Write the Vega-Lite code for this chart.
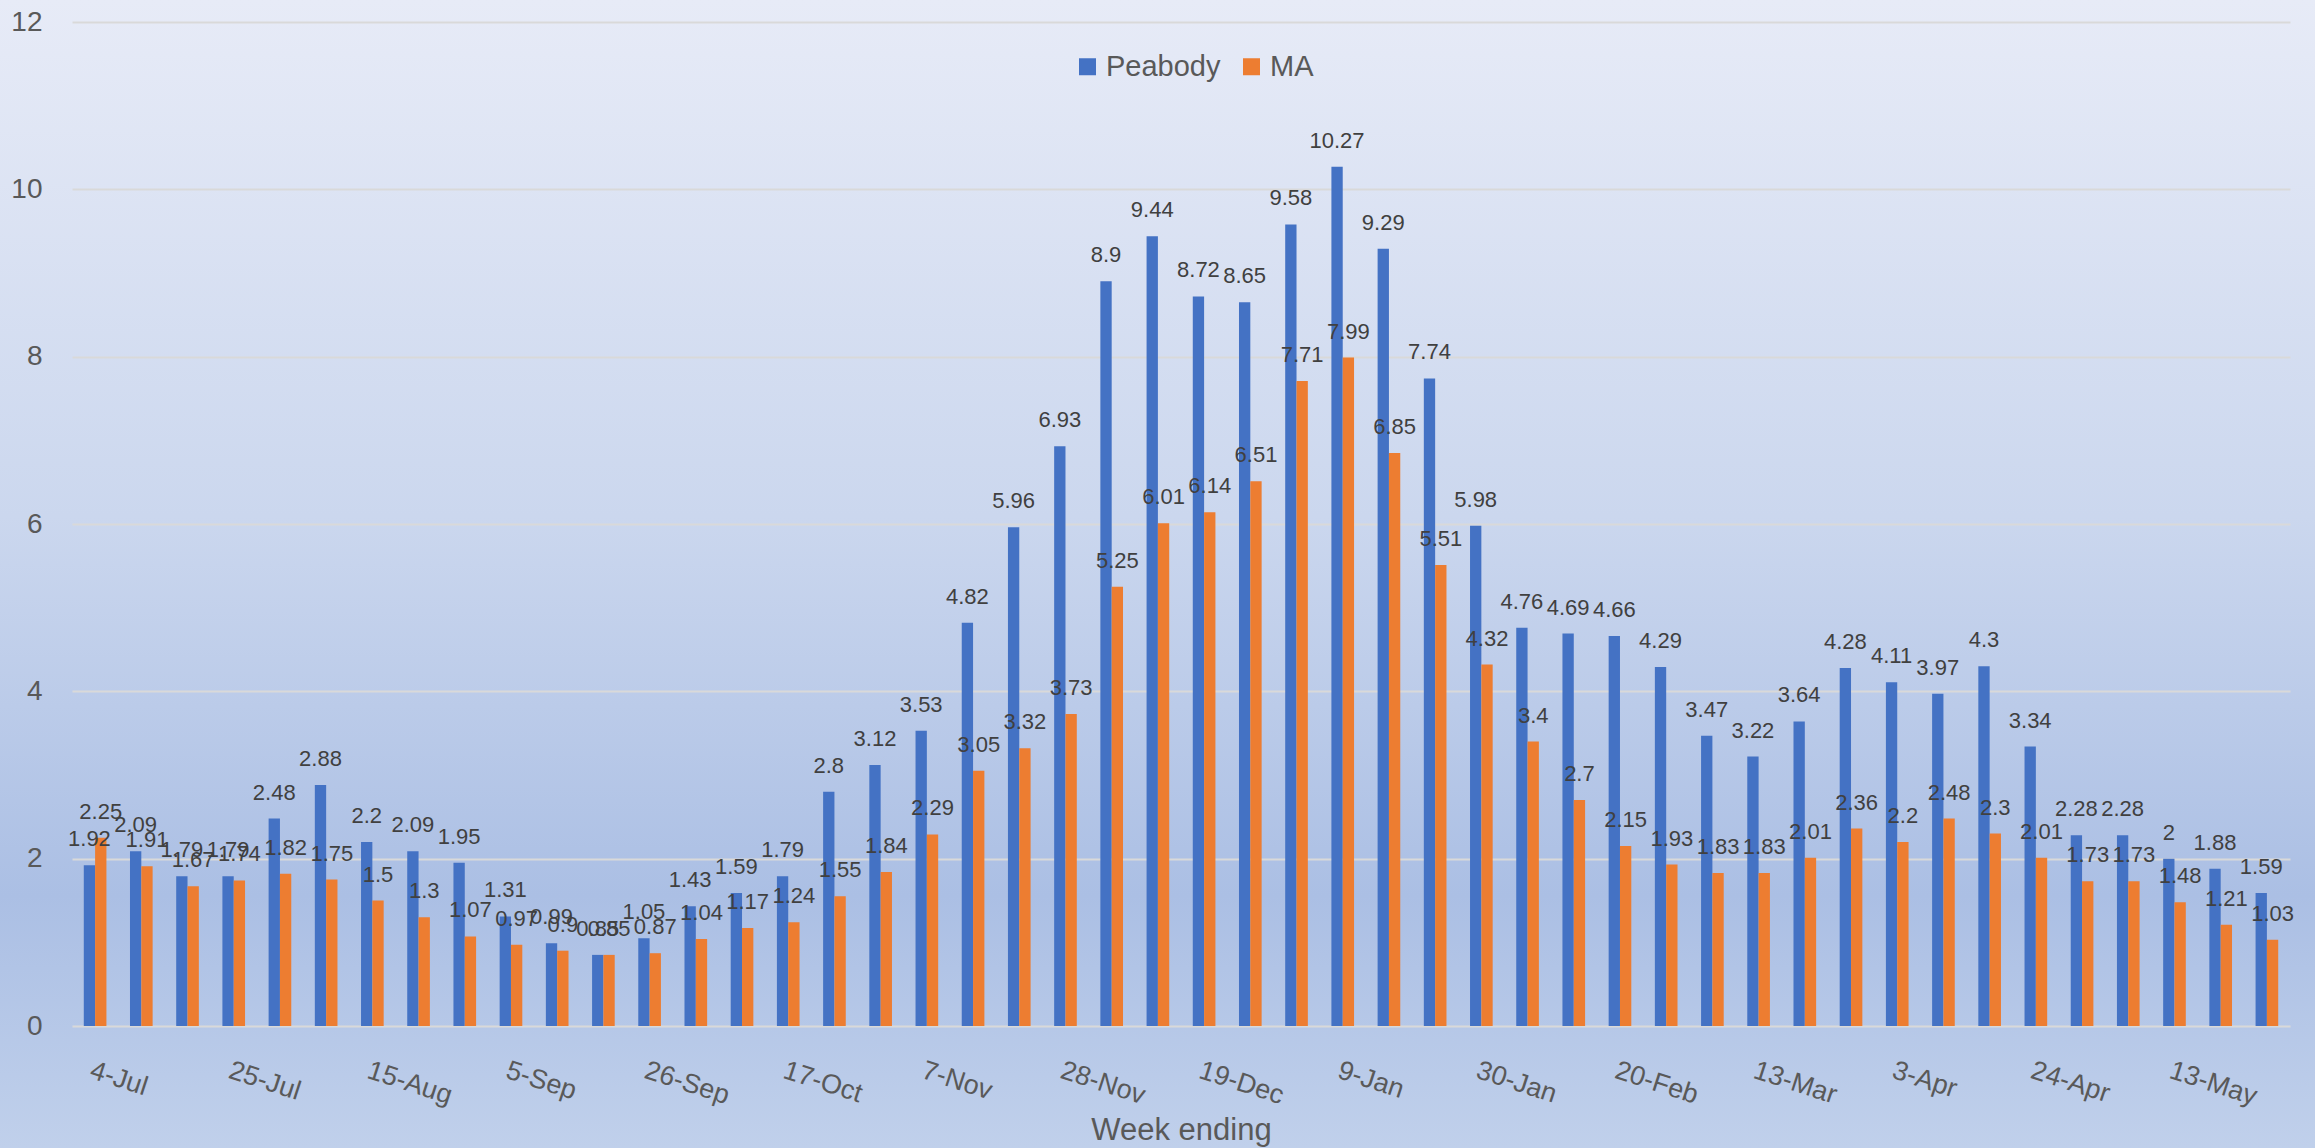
{
  "$schema": "https://vega.github.io/schema/vega-lite/v6.json",
  "width": 2315,
  "height": 1148,
  "autosize": "none",
  "padding": 0,
  "background": "#C9D6EE",
  "view": {
    "stroke": null,
    "fill": {
      "gradient": "linear",
      "x1": 0, "y1": 0, "x2": 0, "y2": 1,
      "stops": [
        {"offset": 0, "color": "#E7EBF7"},
        {"offset": 0.45, "color": "#CBD7EE"},
        {"offset": 0.78, "color": "#ABBFE4"},
        {"offset": 1, "color": "#C0D0EB"}
      ]
    }
  },
  "config": {
    "font": "Liberation Sans"
  },
  "data": {
    "values": [
      {"week": "4-Jul", "Peabody": 1.92, "MA": 2.25},
      {"week": "11-Jul", "Peabody": 2.09, "MA": 1.91},
      {"week": "18-Jul", "Peabody": 1.79, "MA": 1.67},
      {"week": "25-Jul", "Peabody": 1.79, "MA": 1.74},
      {"week": "1-Aug", "Peabody": 2.48, "MA": 1.82},
      {"week": "8-Aug", "Peabody": 2.88, "MA": 1.75},
      {"week": "15-Aug", "Peabody": 2.2, "MA": 1.5},
      {"week": "22-Aug", "Peabody": 2.09, "MA": 1.3},
      {"week": "29-Aug", "Peabody": 1.95, "MA": 1.07},
      {"week": "5-Sep", "Peabody": 1.31, "MA": 0.97},
      {"week": "12-Sep", "Peabody": 0.99, "MA": 0.9},
      {"week": "19-Sep", "Peabody": 0.85, "MA": 0.85},
      {"week": "26-Sep", "Peabody": 1.05, "MA": 0.87},
      {"week": "3-Oct", "Peabody": 1.43, "MA": 1.04},
      {"week": "10-Oct", "Peabody": 1.59, "MA": 1.17},
      {"week": "17-Oct", "Peabody": 1.79, "MA": 1.24},
      {"week": "24-Oct", "Peabody": 2.8, "MA": 1.55},
      {"week": "31-Oct", "Peabody": 3.12, "MA": 1.84},
      {"week": "7-Nov", "Peabody": 3.53, "MA": 2.29},
      {"week": "14-Nov", "Peabody": 4.82, "MA": 3.05},
      {"week": "21-Nov", "Peabody": 5.96, "MA": 3.32},
      {"week": "28-Nov", "Peabody": 6.93, "MA": 3.73},
      {"week": "5-Dec", "Peabody": 8.9, "MA": 5.25},
      {"week": "12-Dec", "Peabody": 9.44, "MA": 6.01},
      {"week": "19-Dec", "Peabody": 8.72, "MA": 6.14},
      {"week": "26-Dec", "Peabody": 8.65, "MA": 6.51},
      {"week": "2-Jan", "Peabody": 9.58, "MA": 7.71},
      {"week": "9-Jan", "Peabody": 10.27, "MA": 7.99},
      {"week": "16-Jan", "Peabody": 9.29, "MA": 6.85},
      {"week": "23-Jan", "Peabody": 7.74, "MA": 5.51},
      {"week": "30-Jan", "Peabody": 5.98, "MA": 4.32},
      {"week": "6-Feb", "Peabody": 4.76, "MA": 3.4},
      {"week": "13-Feb", "Peabody": 4.69, "MA": 2.7},
      {"week": "20-Feb", "Peabody": 4.66, "MA": 2.15},
      {"week": "27-Feb", "Peabody": 4.29, "MA": 1.93},
      {"week": "6-Mar", "Peabody": 3.47, "MA": 1.83},
      {"week": "13-Mar", "Peabody": 3.22, "MA": 1.83},
      {"week": "20-Mar", "Peabody": 3.64, "MA": 2.01},
      {"week": "27-Mar", "Peabody": 4.28, "MA": 2.36},
      {"week": "3-Apr", "Peabody": 4.11, "MA": 2.2},
      {"week": "10-Apr", "Peabody": 3.97, "MA": 2.48},
      {"week": "17-Apr", "Peabody": 4.3, "MA": 2.3},
      {"week": "24-Apr", "Peabody": 3.34, "MA": 2.01},
      {"week": "1-May", "Peabody": 2.28, "MA": 1.73},
      {"week": "6-May", "Peabody": 2.28, "MA": 1.73},
      {"week": "13-May", "Peabody": 2, "MA": 1.48},
      {"week": "20-May", "Peabody": 1.88, "MA": 1.21},
      {"week": "27-May", "Peabody": 1.59, "MA": 1.03}
    ]
  },
  "transform": [
    {"fold": ["Peabody", "MA"], "as": ["series", "value"]}
  ],
  "encoding": {
    "x": {
      "field": "week",
      "type": "nominal",
      "sort": null,
      "scale": {"range": [72, 2290], "paddingInner": 0.51, "paddingOuter": 0.255},
      "axis": {
        "values": ["4-Jul", "25-Jul", "15-Aug", "5-Sep", "26-Sep", "17-Oct", "7-Nov", "28-Nov", "19-Dec", "9-Jan", "30-Jan", "20-Feb", "13-Mar", "3-Apr", "24-Apr", "13-May"],
        "orient": "bottom",
        "offset": -122,
        "domain": false,
        "ticks": false,
        "tickSize": 0,
        "grid": false,
        "labelAngle": 18,
        "labelAlign": "left",
        "labelBaseline": "top",
        "labelPadding": 31,
        "labelFontSize": 27,
        "labelColor": "#595959",
        "labelOverlap": false,
        "labelBound": false,
        "labelFlush": false,
        "title": "Week ending",
        "titleFontSize": 31,
        "titleFontWeight": "normal",
        "titleColor": "#595959",
        "titleX": 1181,
        "titleY": 113,
        "titleAlign": "center",
        "titleBaseline": "alphabetic",
        "titleAnchor": null
      }
    },
    "xOffset": {
      "field": "series",
      "type": "nominal",
      "sort": ["Peabody", "MA"],
      "scale": {"paddingInner": 0, "paddingOuter": 0}
    },
    "y": {
      "field": "value",
      "type": "quantitative",
      "scale": {"domain": [0, 12], "range": [1026, 22], "nice": false, "zero": true},
      "axis": {
        "values": [0, 2, 4, 6, 8, 10, 12],
        "orient": "left",
        "offset": -42,
        "domain": false,
        "ticks": false,
        "tickSize": 0,
        "labelPadding": 0,
        "grid": true,
        "gridColor": "#D9D9D9",
        "gridWidth": 2,
        "labelFontSize": 28,
        "labelColor": "#595959",
        "title": null
      }
    }
  },
  "layer": [
    {
      "mark": {"type": "bar"},
      "encoding": {
        "color": {
          "field": "series",
          "type": "nominal",
          "sort": ["Peabody", "MA"],
          "scale": {"domain": ["Peabody", "MA"], "range": ["#4472C4", "#ED7D31"]},
          "legend": {
            "title": null,
            "orient": "none",
            "direction": "horizontal",
            "legendX": 1073,
            "legendY": 52,
            "padding": 0,
            "symbolType": "square",
            "symbolSize": 289,
            "symbolStrokeWidth": 0,
            "labelFontSize": 29,
            "labelColor": "#595959",
            "labelOffset": 4,
            "columnPadding": 16
          }
        }
      }
    },
    {
      "mark": {"type": "text", "dy": -19, "baseline": "alphabetic", "align": "center", "fontSize": 22, "color": "#404040"},
      "encoding": {
        "text": {"field": "value", "type": "quantitative"}
      }
    }
  ]
}
